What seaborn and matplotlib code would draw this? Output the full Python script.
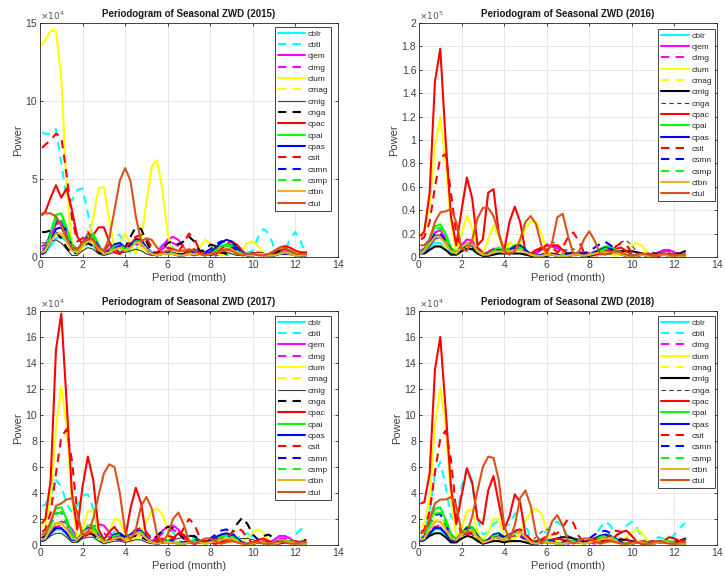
import matplotlib
matplotlib.use("Agg")
import matplotlib.pyplot as plt
from matplotlib.ticker import FuncFormatter
import seaborn as sns

# --- Data: periodogram power (period grid in months) ---
PERIOD = [0.1, 0.25, 0.5, 0.75, 1.0, 1.25, 1.5, 1.75, 2.0, 2.25, 2.5, 2.75, 3.0,
          3.25, 3.5, 3.75, 4.0, 4.25, 4.5, 4.75, 5.0, 5.25, 5.5, 5.75, 6.0, 6.25,
          6.5, 6.75, 7.0, 7.25, 7.5, 7.75, 8.0, 8.25, 8.5, 8.75, 9.0, 9.25, 9.5,
          9.75, 10.0, 10.25, 10.5, 10.75, 11.0, 11.25, 11.5, 11.75, 12.0, 12.25, 12.5]

# 2015 (x 1e4)
y2015_cblr = [0.2, 0.3, 0.7, 1.2, 1.3, 1.0, 0.5, 0.2, 0.5, 0.8, 0.7, 0.3, 0.1,
              0.3, 0.5, 0.4, 0.3, 0.6, 1.0, 1.0, 0.6, 0.2, 0.1, 0.2, 0.3, 0.3,
              0.2, 0.1, 0.2, 0.3, 0.2, 0.2, 0.4, 0.6, 0.7, 0.8, 0.7, 0.4, 0.2,
              0.1, 0.1, 0.2, 0.2, 0.1, 0.1, 0.2, 0.3, 0.3, 0.2, 0.2, 0.2]
y2015_cbtl = [8.0, 7.9, 7.9, 8.2, 6.0, 3.8, 3.6, 4.3, 4.4, 2.8, 1.0, 0.3, 0.5,
              1.2, 1.5, 1.4, 0.8, 0.3, 0.5, 0.8, 0.6, 0.3, 0.4, 0.8, 0.9, 0.6,
              0.2, 0.2, 0.4, 0.5, 0.3, 0.1, 0.2, 0.4, 0.3, 0.1, 0.2, 0.5, 0.6,
              0.3, 0.4, 1.3, 1.8, 1.5, 0.6, 0.1, 0.3, 1.2, 1.6, 1.0, 0.2]
y2015_cjem = [0.7, 0.8, 1.4, 2.1, 2.2, 1.6, 0.8, 0.5, 0.9, 1.5, 1.4, 0.7, 0.3,
              0.5, 0.8, 0.7, 0.5, 0.7, 1.0, 0.9, 0.5, 0.2, 0.3, 0.7, 1.1, 1.3,
              1.1, 0.6, 0.2, 0.1, 0.2, 0.3, 0.2, 0.1, 0.2, 0.4, 0.5, 0.5, 0.3,
              0.1, 0.1, 0.2, 0.2, 0.1, 0.1, 0.3, 0.3, 0.2, 0.1, 0.1, 0.2]
y2015_clmg = [0.5, 0.6, 1.3, 2.2, 2.3, 1.6, 0.8, 0.4, 0.7, 1.2, 1.1, 0.5, 0.2,
              0.3, 0.6, 0.6, 0.4, 0.6, 0.8, 0.8, 0.4, 0.2, 0.2, 0.5, 0.8, 0.9,
              0.7, 0.4, 0.2, 0.1, 0.2, 0.3, 0.2, 0.1, 0.2, 0.3, 0.4, 0.4, 0.2,
              0.1, 0.1, 0.2, 0.2, 0.1, 0.1, 0.2, 0.3, 0.2, 0.1, 0.1, 0.2]
y2015_clum = [13.6, 13.9, 14.5, 14.5, 11.5, 4.5, 0.8, 0.2, 0.5, 1.0, 2.5, 4.4, 4.5,
              2.4, 0.5, 0.9, 1.5, 0.8, 0.2, 1.0, 3.5, 5.8, 6.2, 4.3, 1.5, 0.2,
              0.3, 0.5, 0.3, 0.2, 0.6, 1.1, 0.9, 0.3, 0.1, 0.3, 0.4, 0.2, 0.4,
              0.9, 1.0, 0.7, 0.2, 0.1, 0.2, 0.3, 0.2, 0.1, 0.2, 0.3, 0.2]
y2015_cmag = [0.4, 0.5, 1.0, 1.5, 1.6, 1.1, 0.5, 0.2, 0.5, 0.9, 0.9, 0.4, 0.1,
              0.3, 0.5, 0.5, 0.3, 0.4, 0.6, 0.6, 0.3, 0.1, 0.2, 0.3, 0.4, 0.4,
              0.3, 0.2, 0.1, 0.2, 0.3, 0.4, 0.3, 0.1, 0.1, 0.2, 0.3, 0.3, 0.2,
              0.1, 0.1, 0.2, 0.2, 0.1, 0.1, 0.1, 0.2, 0.2, 0.1, 0.1, 0.1]
y2015_cmlg = [0.9, 0.9, 1.0, 1.1, 0.9, 0.5, 0.1, 0.1, 0.4, 0.6, 0.5, 0.2, 0.1,
              0.2, 0.3, 0.3, 0.3, 0.4, 0.5, 0.4, 0.2, 0.1, 0.1, 0.2, 0.3, 0.3,
              0.2, 0.2, 0.3, 0.4, 0.3, 0.1, 0.1, 0.2, 0.3, 0.3, 0.2, 0.1, 0.1,
              0.2, 0.3, 0.2, 0.1, 0.1, 0.2, 0.3, 0.3, 0.2, 0.1, 0.1, 0.1]
y2015_cnga = [1.6, 1.6, 1.7, 1.6, 1.2, 0.6, 0.2, 0.3, 0.7, 0.9, 0.7, 0.3, 0.2,
              0.4, 0.6, 0.5, 0.6, 1.3, 1.9, 1.8, 1.0, 0.3, 0.2, 0.5, 0.9, 1.0,
              0.8, 1.0, 1.3, 1.0, 0.4, 0.4, 0.8, 0.7, 0.3, 0.2, 0.4, 0.5, 0.3,
              0.1, 0.2, 0.3, 0.2, 0.1, 0.2, 0.4, 0.5, 0.4, 0.2, 0.1, 0.2]
y2015_cpac = [2.7, 2.9, 3.8, 4.6, 3.8, 4.4, 3.0, 1.3, 0.8, 1.0, 1.4, 1.9, 1.9,
              1.0, 0.3, 0.2, 0.5, 0.8, 1.2, 1.1, 0.6, 0.2, 0.1, 0.2, 0.3, 0.2,
              0.1, 0.2, 0.4, 0.5, 0.3, 0.1, 0.2, 0.3, 0.5, 0.8, 1.0, 0.8, 0.4,
              0.1, 0.1, 0.2, 0.1, 0.1, 0.3, 0.6, 0.7, 0.6, 0.4, 0.3, 0.3]
y2015_cpai = [0.3, 0.5, 1.6, 2.7, 2.8, 1.9, 0.8, 0.3, 0.8, 1.4, 1.5, 0.8, 0.2,
              0.4, 0.8, 0.9, 0.6, 0.8, 1.1, 1.1, 0.6, 0.2, 0.1, 0.2, 0.3, 0.2,
              0.1, 0.1, 0.2, 0.3, 0.2, 0.1, 0.2, 0.5, 0.7, 0.8, 0.8, 0.5, 0.2,
              0.1, 0.1, 0.2, 0.2, 0.1, 0.1, 0.2, 0.3, 0.3, 0.2, 0.1, 0.1]
y2015_cpas = [0.2, 0.3, 1.0, 1.8, 1.9, 1.3, 0.5, 0.3, 0.8, 1.2, 1.2, 0.7, 0.2,
              0.4, 0.8, 0.9, 0.6, 0.8, 1.1, 1.1, 0.6, 0.2, 0.1, 0.2, 0.2, 0.2,
              0.1, 0.1, 0.2, 0.3, 0.2, 0.2, 0.3, 0.6, 0.9, 1.1, 1.0, 0.6, 0.2,
              0.1, 0.1, 0.2, 0.2, 0.1, 0.1, 0.2, 0.2, 0.2, 0.1, 0.1, 0.1]
y2015_csit = [7.0, 7.2, 7.5, 7.9, 7.7, 5.3, 2.5, 1.0, 1.2, 1.6, 1.0, 0.3, 0.4,
              0.8, 0.6, 0.2, 0.5, 1.0, 1.3, 1.4, 1.2, 0.6, 0.2, 0.3, 0.6, 0.5,
              0.3, 0.9, 1.5, 1.2, 0.4, 0.1, 0.3, 0.5, 0.3, 0.4, 0.6, 0.5, 0.2,
              0.1, 0.2, 0.3, 0.2, 0.1, 0.2, 0.4, 0.5, 0.4, 0.2, 0.1, 0.2]
y2015_csmn = [0.3, 0.5, 1.5, 2.3, 2.4, 1.6, 0.6, 0.3, 0.9, 1.3, 1.2, 0.6, 0.2,
              0.3, 0.6, 0.7, 0.5, 0.7, 0.9, 0.9, 0.5, 0.2, 0.1, 0.2, 0.3, 0.3,
              0.2, 0.2, 0.3, 0.4, 0.3, 0.3, 0.5, 0.8, 1.0, 1.0, 0.7, 0.4, 0.2,
              0.1, 0.1, 0.2, 0.2, 0.1, 0.1, 0.2, 0.3, 0.2, 0.1, 0.1, 0.1]
y2015_csmp = [0.3, 0.4, 1.4, 2.4, 2.5, 1.7, 0.7, 0.3, 0.8, 1.3, 1.3, 0.7, 0.2,
              0.4, 0.7, 0.8, 0.5, 0.7, 1.0, 1.0, 0.5, 0.2, 0.1, 0.2, 0.3, 0.2,
              0.1, 0.1, 0.2, 0.3, 0.2, 0.1, 0.2, 0.4, 0.6, 0.7, 0.7, 0.4, 0.2,
              0.1, 0.1, 0.2, 0.2, 0.1, 0.1, 0.2, 0.3, 0.2, 0.1, 0.1, 0.1]
y2015_ctbn = [0.3, 0.4, 1.0, 1.5, 1.5, 1.0, 0.4, 0.3, 0.7, 1.0, 1.0, 0.5, 0.2,
              0.3, 0.5, 0.6, 0.4, 0.6, 0.9, 0.9, 0.5, 0.2, 0.1, 0.2, 0.2, 0.2,
              0.1, 0.1, 0.2, 0.2, 0.2, 0.1, 0.2, 0.3, 0.4, 0.5, 0.5, 0.3, 0.1,
              0.1, 0.1, 0.2, 0.2, 0.1, 0.1, 0.2, 0.3, 0.2, 0.1, 0.1, 0.1]
y2015_ctul = [2.8, 2.8, 2.8, 2.6, 2.0, 1.2, 0.6, 0.5, 0.9, 1.2, 1.1, 0.6, 0.4,
              1.2, 3.0, 4.9, 5.7, 4.9, 2.6, 1.0, 1.2, 1.1, 0.6, 0.3, 0.4, 0.5,
              0.4, 0.4, 0.5, 0.4, 0.2, 0.1, 0.2, 0.3, 0.4, 0.5, 0.4, 0.2, 0.1,
              0.2, 0.2, 0.1, 0.1, 0.2, 0.4, 0.6, 0.6, 0.4, 0.2, 0.2, 0.2]

# 2016 (x 1e5)
y2016_cblr = [0.03, 0.04, 0.08, 0.12, 0.12, 0.08, 0.03, 0.02, 0.05, 0.07, 0.06, 0.03, 0.01,
              0.02, 0.04, 0.04, 0.03, 0.05, 0.08, 0.1, 0.07, 0.02, 0.01, 0.01, 0.02, 0.02,
              0.01, 0.01, 0.01, 0.02, 0.02, 0.01, 0.02, 0.04, 0.06, 0.07, 0.06, 0.04, 0.02,
              0.01, 0.01, 0.01, 0.02, 0.01, 0.01, 0.01, 0.02, 0.02, 0.01, 0.01, 0.01]
y2016_cjem = [0.06, 0.07, 0.13, 0.21, 0.23, 0.16, 0.07, 0.05, 0.1, 0.15, 0.14, 0.07, 0.03,
              0.04, 0.07, 0.07, 0.05, 0.06, 0.08, 0.08, 0.05, 0.03, 0.04, 0.07, 0.1, 0.1,
              0.08, 0.04, 0.02, 0.01, 0.02, 0.03, 0.02, 0.01, 0.02, 0.03, 0.04, 0.04, 0.03,
              0.01, 0.01, 0.02, 0.02, 0.01, 0.02, 0.04, 0.06, 0.06, 0.04, 0.02, 0.02]
y2016_clmg = [0.05, 0.06, 0.12, 0.19, 0.2, 0.14, 0.06, 0.04, 0.08, 0.12, 0.12, 0.06, 0.02,
              0.03, 0.06, 0.06, 0.04, 0.05, 0.07, 0.07, 0.04, 0.02, 0.03, 0.06, 0.09, 0.09,
              0.07, 0.04, 0.02, 0.01, 0.02, 0.02, 0.02, 0.01, 0.02, 0.03, 0.03, 0.03, 0.02,
              0.01, 0.01, 0.02, 0.02, 0.01, 0.02, 0.03, 0.05, 0.05, 0.03, 0.02, 0.02]
y2016_clum = [0.2, 0.22, 0.45, 0.95, 1.2, 0.8, 0.3, 0.05, 0.2, 0.35, 0.25, 0.05, 0.03,
              0.15, 0.27, 0.18, 0.03, 0.12, 0.1, 0.1, 0.25, 0.3, 0.3, 0.2, 0.05, 0.02,
              0.04, 0.05, 0.03, 0.01, 0.02, 0.03, 0.02, 0.01, 0.02, 0.03, 0.02, 0.01, 0.02,
              0.05, 0.1, 0.12, 0.09, 0.03, 0.01, 0.02, 0.03, 0.02, 0.01, 0.02, 0.02]
y2016_cmag = [0.03, 0.05, 0.1, 0.15, 0.14, 0.09, 0.04, 0.02, 0.05, 0.08, 0.07, 0.03, 0.01,
              0.03, 0.05, 0.06, 0.08, 0.12, 0.13, 0.1, 0.05, 0.02, 0.02, 0.03, 0.04, 0.03,
              0.02, 0.01, 0.02, 0.03, 0.02, 0.01, 0.02, 0.03, 0.03, 0.02, 0.02, 0.03, 0.02,
              0.01, 0.01, 0.02, 0.02, 0.01, 0.01, 0.02, 0.02, 0.01, 0.01, 0.01, 0.01]
y2016_cmlg = [0.03, 0.03, 0.06, 0.09, 0.09, 0.06, 0.02, 0.02, 0.05, 0.07, 0.07, 0.03, 0.01,
              0.01, 0.02, 0.03, 0.03, 0.03, 0.03, 0.03, 0.02, 0.01, 0.01, 0.01, 0.01, 0.02,
              0.02, 0.01, 0.01, 0.02, 0.02, 0.01, 0.01, 0.02, 0.03, 0.03, 0.03, 0.04, 0.05,
              0.05, 0.05, 0.04, 0.03, 0.02, 0.02, 0.03, 0.03, 0.02, 0.02, 0.03, 0.05]
y2016_cnga = [0.04, 0.05, 0.12, 0.18, 0.19, 0.12, 0.05, 0.03, 0.07, 0.1, 0.09, 0.04, 0.02,
              0.03, 0.05, 0.06, 0.05, 0.08, 0.1, 0.1, 0.06, 0.02, 0.03, 0.07, 0.11, 0.13,
              0.11, 0.06, 0.06, 0.07, 0.05, 0.02, 0.03, 0.05, 0.06, 0.05, 0.05, 0.09, 0.13,
              0.14, 0.1, 0.04, 0.02, 0.03, 0.04, 0.03, 0.02, 0.02, 0.03, 0.04, 0.04]
y2016_cpac = [0.18, 0.22, 0.55, 1.5, 1.78, 1.0, 0.35, 0.1, 0.4, 0.68, 0.5, 0.1, 0.15,
              0.55, 0.58, 0.2, 0.05, 0.3, 0.43, 0.3, 0.05, 0.03, 0.06, 0.08, 0.06, 0.1,
              0.1, 0.06, 0.03, 0.02, 0.04, 0.04, 0.03, 0.02, 0.03, 0.05, 0.06, 0.07, 0.08,
              0.05, 0.02, 0.01, 0.02, 0.03, 0.02, 0.01, 0.02, 0.03, 0.02, 0.01, 0.02]
y2016_cpai = [0.04, 0.06, 0.16, 0.26, 0.28, 0.2, 0.08, 0.04, 0.08, 0.12, 0.11, 0.05, 0.02,
              0.03, 0.06, 0.08, 0.05, 0.07, 0.1, 0.1, 0.06, 0.02, 0.01, 0.01, 0.02, 0.02,
              0.01, 0.01, 0.01, 0.02, 0.02, 0.01, 0.02, 0.04, 0.07, 0.09, 0.09, 0.06, 0.03,
              0.01, 0.01, 0.01, 0.02, 0.01, 0.01, 0.02, 0.02, 0.02, 0.01, 0.01, 0.01]
y2016_cpas = [0.03, 0.04, 0.1, 0.16, 0.17, 0.12, 0.05, 0.03, 0.08, 0.12, 0.11, 0.05, 0.02,
              0.03, 0.05, 0.06, 0.04, 0.06, 0.09, 0.1, 0.06, 0.02, 0.01, 0.01, 0.02, 0.02,
              0.01, 0.01, 0.01, 0.02, 0.02, 0.01, 0.02, 0.04, 0.06, 0.08, 0.07, 0.05, 0.02,
              0.01, 0.01, 0.01, 0.02, 0.01, 0.01, 0.02, 0.02, 0.01, 0.01, 0.01, 0.01]
y2016_csit = [0.15, 0.17, 0.3, 0.6, 0.85, 0.88, 0.55, 0.2, 0.08, 0.1, 0.12, 0.08, 0.04,
              0.05, 0.06, 0.04, 0.03, 0.05, 0.07, 0.08, 0.05, 0.02, 0.03, 0.07, 0.1, 0.08,
              0.04, 0.08, 0.17, 0.21, 0.14, 0.04, 0.02, 0.03, 0.04, 0.03, 0.04, 0.09, 0.12,
              0.1, 0.04, 0.01, 0.02, 0.03, 0.02, 0.01, 0.02, 0.03, 0.02, 0.01, 0.02]
y2016_csmn = [0.04, 0.06, 0.14, 0.2, 0.2, 0.14, 0.06, 0.03, 0.07, 0.1, 0.1, 0.05, 0.02,
              0.03, 0.05, 0.06, 0.04, 0.06, 0.08, 0.08, 0.05, 0.02, 0.01, 0.02, 0.03, 0.03,
              0.02, 0.02, 0.03, 0.04, 0.03, 0.03, 0.05, 0.08, 0.11, 0.13, 0.1, 0.06, 0.03,
              0.01, 0.01, 0.02, 0.02, 0.01, 0.01, 0.02, 0.02, 0.02, 0.01, 0.01, 0.01]
y2016_csmp = [0.04, 0.06, 0.15, 0.24, 0.25, 0.17, 0.07, 0.04, 0.08, 0.11, 0.1, 0.05, 0.02,
              0.03, 0.05, 0.07, 0.05, 0.06, 0.08, 0.08, 0.05, 0.02, 0.01, 0.01, 0.02, 0.02,
              0.01, 0.01, 0.01, 0.02, 0.02, 0.01, 0.02, 0.03, 0.05, 0.07, 0.07, 0.05, 0.02,
              0.01, 0.01, 0.01, 0.02, 0.01, 0.01, 0.02, 0.02, 0.02, 0.01, 0.01, 0.01]
y2016_ctbn = [0.03, 0.05, 0.11, 0.17, 0.17, 0.12, 0.05, 0.03, 0.08, 0.12, 0.11, 0.05, 0.02,
              0.02, 0.04, 0.05, 0.04, 0.05, 0.06, 0.06, 0.04, 0.02, 0.01, 0.01, 0.02, 0.02,
              0.01, 0.01, 0.01, 0.02, 0.02, 0.01, 0.02, 0.03, 0.04, 0.04, 0.04, 0.03, 0.02,
              0.01, 0.01, 0.01, 0.02, 0.01, 0.01, 0.02, 0.02, 0.01, 0.01, 0.01, 0.01]
y2016_ctul = [0.1, 0.1, 0.15, 0.3, 0.38, 0.39, 0.41, 0.3, 0.07, 0.05, 0.15, 0.33, 0.42,
              0.42, 0.35, 0.2, 0.05, 0.02, 0.05, 0.15, 0.3, 0.35, 0.28, 0.1, 0.03, 0.12,
              0.34, 0.37, 0.18, 0.03, 0.04, 0.15, 0.22, 0.14, 0.03, 0.02, 0.04, 0.05, 0.04,
              0.02, 0.01, 0.02, 0.03, 0.02, 0.01, 0.02, 0.03, 0.02, 0.01, 0.02, 0.02]

# 2017 (x 1e4)
y2017_cblr = [0.3, 0.4, 0.8, 1.2, 1.2, 0.8, 0.3, 0.3, 0.7, 1.0, 0.9, 0.4, 0.1,
              0.3, 0.5, 0.5, 0.3, 0.6, 1.0, 1.1, 0.7, 0.2, 0.1, 0.2, 0.3, 0.3,
              0.2, 0.1, 0.2, 0.3, 0.2, 0.2, 0.3, 0.5, 0.6, 0.7, 0.6, 0.4, 0.2,
              0.1, 0.1, 0.2, 0.2, 0.1, 0.1, 0.2, 0.3, 0.3, 0.2, 0.1, 0.1]
y2017_cbtl = [3.0, 3.1, 3.8, 5.0, 4.5, 3.2, 2.5, 3.0, 3.8, 3.9, 2.8, 1.2, 0.5,
              0.7, 1.0, 1.2, 1.5, 1.3, 0.7, 0.4, 0.6, 0.8, 0.7, 0.9, 1.2, 1.0,
              0.4, 0.1, 0.3, 0.5, 0.4, 0.2, 0.3, 0.5, 0.6, 0.4, 0.3, 0.5, 0.8,
              0.9, 0.6, 0.2, 0.1, 0.2, 0.3, 0.2, 0.1, 0.3, 0.8, 1.2, 1.3]
y2017_cjem = [0.6, 0.7, 1.1, 1.6, 1.8, 1.7, 1.2, 0.6, 0.7, 1.1, 1.4, 1.6, 1.5,
              1.0, 0.5, 0.4, 0.5, 0.7, 0.9, 0.8, 0.5, 0.3, 0.6, 1.1, 1.4, 1.5,
              1.2, 0.6, 0.2, 0.1, 0.2, 0.3, 0.2, 0.1, 0.2, 0.3, 0.4, 0.3, 0.2,
              0.1, 0.1, 0.2, 0.2, 0.2, 0.4, 0.7, 0.7, 0.5, 0.2, 0.1, 0.2]
y2017_clmg = [0.5, 0.6, 1.0, 1.4, 1.5, 1.3, 0.8, 0.5, 0.6, 0.9, 1.0, 1.0, 0.9,
              0.6, 0.4, 0.4, 0.4, 0.6, 0.8, 0.7, 0.4, 0.3, 0.5, 0.9, 1.1, 1.2,
              0.9, 0.5, 0.2, 0.1, 0.2, 0.2, 0.2, 0.1, 0.2, 0.3, 0.3, 0.3, 0.2,
              0.1, 0.1, 0.2, 0.2, 0.2, 0.3, 0.5, 0.5, 0.4, 0.2, 0.1, 0.2]
y2017_clum = [1.4, 1.6, 3.5, 9.0, 12.2, 9.0, 3.5, 0.6, 1.2, 2.6, 2.6, 1.0, 0.3,
              1.0, 2.0, 1.9, 0.7, 0.2, 0.5, 1.0, 1.8, 2.6, 2.8, 2.4, 1.2, 0.3,
              0.1, 0.2, 0.4, 0.3, 0.1, 0.2, 0.3, 0.2, 0.1, 0.2, 0.3, 0.2, 0.2,
              0.6, 1.0, 1.2, 0.9, 0.3, 0.1, 0.2, 0.3, 0.2, 0.1, 0.2, 0.2]
y2017_cmag = [0.8, 1.0, 1.4, 1.6, 1.6, 1.1, 0.5, 0.3, 0.6, 0.9, 0.9, 0.4, 0.2,
              0.3, 0.5, 0.5, 0.3, 0.4, 0.6, 0.6, 0.4, 0.2, 0.3, 0.5, 0.6, 0.5,
              0.3, 0.2, 0.2, 0.3, 0.3, 0.2, 0.2, 0.3, 0.4, 0.4, 0.3, 0.2, 0.2,
              0.2, 0.2, 0.3, 0.3, 0.2, 0.1, 0.2, 0.2, 0.2, 0.1, 0.1, 0.1]
y2017_cmlg = [0.3, 0.4, 0.7, 0.9, 0.9, 0.6, 0.2, 0.2, 0.5, 0.6, 0.6, 0.3, 0.1,
              0.2, 0.3, 0.3, 0.2, 0.3, 0.4, 0.4, 0.2, 0.1, 0.1, 0.2, 0.3, 0.4,
              0.5, 0.6, 0.7, 0.6, 0.4, 0.3, 0.4, 0.5, 0.4, 0.3, 0.3, 0.4, 0.5,
              0.5, 0.4, 0.3, 0.2, 0.1, 0.2, 0.3, 0.3, 0.2, 0.2, 0.3, 0.4]
y2017_cnga = [0.5, 0.7, 1.1, 1.3, 1.3, 0.9, 0.4, 0.3, 0.7, 0.9, 0.8, 0.4, 0.2,
              0.3, 0.5, 0.5, 0.4, 0.6, 0.7, 0.6, 0.4, 0.3, 0.7, 1.1, 1.4, 1.3,
              0.9, 0.5, 0.7, 0.7, 0.4, 0.2, 0.4, 0.6, 0.5, 0.4, 0.9, 1.6, 2.1,
              1.6, 0.8, 0.4, 0.7, 0.8, 0.5, 0.2, 0.2, 0.3, 0.2, 0.3, 0.4]
y2017_cpac = [1.7, 2.0, 5.0, 15.0, 17.8, 11.0, 4.0, 1.2, 4.5, 6.8, 5.0, 1.2, 0.4,
              1.0, 1.4, 0.8, 0.5, 2.8, 4.4, 3.2, 0.6, 0.2, 0.4, 0.5, 0.3, 0.5,
              0.9, 0.8, 0.3, 0.1, 0.2, 0.3, 0.2, 0.1, 0.2, 0.4, 0.5, 0.4, 0.2,
              0.1, 0.2, 0.4, 0.5, 0.3, 0.1, 0.1, 0.2, 0.3, 0.3, 0.2, 0.2]
y2017_cpai = [0.4, 0.6, 1.7, 2.8, 2.9, 2.0, 0.9, 0.4, 0.9, 1.5, 1.5, 0.8, 0.2,
              0.4, 0.8, 0.9, 0.6, 0.8, 1.1, 1.1, 0.6, 0.2, 0.1, 0.2, 0.3, 0.2,
              0.1, 0.1, 0.2, 0.3, 0.2, 0.1, 0.2, 0.5, 0.7, 0.8, 0.7, 0.4, 0.2,
              0.1, 0.1, 0.2, 0.2, 0.1, 0.1, 0.2, 0.3, 0.3, 0.2, 0.1, 0.1]
y2017_cpas = [0.3, 0.4, 0.9, 1.3, 1.3, 0.9, 0.4, 0.4, 0.9, 1.3, 1.3, 0.7, 0.2,
              0.4, 0.8, 0.9, 0.6, 0.8, 1.1, 1.1, 0.6, 0.2, 0.1, 0.2, 0.2, 0.2,
              0.1, 0.1, 0.2, 0.3, 0.2, 0.2, 0.3, 0.6, 0.8, 0.9, 0.8, 0.5, 0.2,
              0.1, 0.1, 0.2, 0.2, 0.1, 0.1, 0.2, 0.2, 0.2, 0.1, 0.1, 0.1]
y2017_csit = [1.0, 1.2, 2.5, 5.5, 8.3, 8.9, 6.5, 2.5, 0.6, 0.8, 1.0, 0.6, 0.3,
              0.5, 0.7, 0.5, 0.4, 0.8, 1.2, 1.3, 1.0, 0.4, 0.2, 0.4, 0.7, 0.6,
              0.5, 1.3, 2.0, 1.6, 0.6, 0.2, 0.3, 0.5, 0.4, 0.5, 0.9, 1.3, 1.1,
              0.5, 0.1, 0.2, 0.3, 0.2, 0.1, 0.2, 0.3, 0.2, 0.1, 0.2, 0.3]
y2017_csmn = [0.4, 0.6, 1.6, 2.4, 2.5, 1.7, 0.7, 0.4, 0.9, 1.3, 1.2, 0.6, 0.2,
              0.3, 0.6, 0.7, 0.5, 0.7, 0.9, 0.9, 0.5, 0.2, 0.1, 0.2, 0.3, 0.3,
              0.2, 0.2, 0.3, 0.4, 0.3, 0.3, 0.5, 0.8, 1.1, 1.2, 1.0, 0.5, 0.2,
              0.1, 0.1, 0.2, 0.2, 0.1, 0.1, 0.2, 0.3, 0.2, 0.1, 0.1, 0.1]
y2017_csmp = [0.4, 0.5, 1.5, 2.4, 2.5, 1.7, 0.7, 0.4, 0.9, 1.3, 1.3, 0.7, 0.2,
              0.4, 0.7, 0.8, 0.5, 0.7, 1.0, 1.0, 0.5, 0.2, 0.1, 0.2, 0.3, 0.2,
              0.1, 0.1, 0.2, 0.3, 0.2, 0.1, 0.2, 0.4, 0.6, 0.7, 0.7, 0.4, 0.2,
              0.1, 0.1, 0.2, 0.2, 0.1, 0.1, 0.2, 0.3, 0.2, 0.1, 0.1, 0.1]
y2017_ctbn = [0.4, 0.5, 1.2, 1.7, 1.7, 1.2, 0.5, 0.4, 0.8, 1.2, 1.1, 0.6, 0.2,
              0.3, 0.5, 0.6, 0.4, 0.6, 0.9, 0.9, 0.5, 0.2, 0.1, 0.2, 0.2, 0.2,
              0.1, 0.1, 0.2, 0.2, 0.2, 0.1, 0.2, 0.3, 0.4, 0.5, 0.5, 0.3, 0.1,
              0.1, 0.1, 0.2, 0.2, 0.1, 0.1, 0.2, 0.3, 0.2, 0.1, 0.1, 0.1]
y2017_ctul = [0.8, 0.9, 1.8, 3.0, 3.2, 3.5, 3.6, 2.5, 0.8, 0.9, 2.0, 3.8, 5.5,
              6.2, 6.0, 4.0, 1.0, 0.4, 1.2, 3.0, 3.7, 2.8, 0.8, 0.2, 0.8, 2.0,
              2.5, 1.6, 0.3, 0.1, 0.3, 0.5, 0.5, 0.3, 0.1, 0.2, 0.3, 0.2, 0.1,
              0.1, 0.2, 0.2, 0.1, 0.1, 0.2, 0.3, 0.2, 0.1, 0.1, 0.2, 0.2]

# 2018 (x 1e4)
y2018_cblr = [0.3, 0.4, 0.8, 1.2, 1.2, 0.8, 0.3, 0.3, 0.7, 0.9, 0.9, 0.4, 0.1,
              0.3, 0.5, 0.5, 0.3, 0.6, 0.9, 1.0, 0.6, 0.2, 0.1, 0.2, 0.3, 0.3,
              0.2, 0.1, 0.2, 0.3, 0.2, 0.2, 0.3, 0.5, 0.6, 0.6, 0.5, 0.3, 0.2,
              0.1, 0.1, 0.2, 0.2, 0.1, 0.1, 0.2, 0.3, 0.3, 0.2, 0.1, 0.1]
y2018_cbtl = [0.6, 0.8, 2.5, 5.5, 6.4, 4.5, 2.2, 1.8, 4.5, 5.9, 4.6, 2.0, 0.8,
              1.0, 1.6, 1.9, 1.5, 1.6, 2.4, 2.6, 1.6, 0.5, 0.3, 0.6, 1.1, 1.6,
              1.8, 1.4, 0.6, 0.3, 0.5, 0.6, 0.4, 0.6, 1.3, 1.8, 1.5, 0.8, 0.9,
              1.5, 1.8, 1.3, 0.5, 0.2, 0.4, 0.6, 0.5, 0.4, 0.8, 1.3, 1.7]
y2018_clmg = [0.5, 0.6, 1.0, 1.4, 1.5, 1.3, 0.8, 0.5, 0.7, 1.0, 1.0, 0.6, 0.3,
              0.4, 0.6, 0.6, 0.4, 0.6, 0.8, 0.7, 0.4, 0.2, 0.2, 0.3, 0.4, 0.4,
              0.3, 0.2, 0.1, 0.1, 0.2, 0.2, 0.2, 0.1, 0.2, 0.3, 0.3, 0.3, 0.2,
              0.1, 0.1, 0.2, 0.2, 0.1, 0.2, 0.3, 0.3, 0.2, 0.1, 0.1, 0.2]
y2018_clum = [1.4, 1.6, 3.6, 9.2, 12.1, 9.2, 3.6, 0.6, 1.2, 2.6, 2.7, 1.0, 0.3,
              1.0, 2.0, 2.0, 0.7, 0.2, 0.5, 1.0, 1.8, 2.6, 2.8, 2.4, 1.2, 0.3,
              0.1, 0.2, 0.4, 0.3, 0.1, 0.2, 0.3, 0.2, 0.1, 0.2, 0.3, 0.2, 0.2,
              0.6, 1.0, 1.2, 0.9, 0.3, 0.1, 0.2, 0.3, 0.2, 0.1, 0.2, 0.2]
y2018_cmag = [0.8, 1.0, 1.6, 2.0, 2.0, 1.4, 0.6, 0.3, 0.6, 0.9, 0.9, 0.4, 0.2,
              0.3, 0.5, 0.5, 0.3, 0.4, 0.6, 0.6, 0.4, 0.2, 0.3, 0.4, 0.5, 0.4,
              0.3, 0.2, 0.2, 0.3, 0.3, 0.2, 0.2, 0.3, 0.4, 0.4, 0.3, 0.2, 0.2,
              0.2, 0.2, 0.3, 0.3, 0.2, 0.1, 0.2, 0.2, 0.2, 0.1, 0.1, 0.1]
y2018_cmlg = [0.3, 0.4, 0.7, 0.9, 0.9, 0.6, 0.2, 0.2, 0.5, 0.7, 0.6, 0.3, 0.1,
              0.2, 0.3, 0.3, 0.2, 0.3, 0.3, 0.3, 0.2, 0.1, 0.1, 0.2, 0.3, 0.4,
              0.5, 0.6, 0.6, 0.5, 0.3, 0.2, 0.3, 0.4, 0.4, 0.3, 0.3, 0.4, 0.4,
              0.4, 0.3, 0.2, 0.1, 0.1, 0.2, 0.3, 0.3, 0.2, 0.2, 0.3, 0.5]
y2018_cnga = [0.5, 0.7, 1.1, 1.4, 1.4, 0.9, 0.4, 0.3, 0.7, 0.9, 0.8, 0.4, 0.2,
              0.3, 0.5, 0.5, 0.4, 0.6, 0.7, 0.6, 0.4, 0.3, 0.6, 1.0, 1.2, 1.1,
              0.8, 0.6, 0.7, 0.6, 0.4, 0.2, 0.3, 0.5, 0.5, 0.4, 0.5, 0.6, 0.5,
              0.4, 0.3, 0.2, 0.2, 0.3, 0.3, 0.2, 0.2, 0.3, 0.3, 0.4, 0.5]
y2018_cpac = [3.2, 3.3, 5.5, 13.5, 16.0, 10.5, 4.5, 1.6, 3.8, 5.9, 4.8, 2.0, 1.6,
              4.2, 5.3, 3.2, 1.2, 2.2, 3.9, 3.3, 0.8, 0.2, 0.3, 0.4, 0.3, 0.4,
              0.5, 0.4, 0.3, 0.2, 0.2, 0.3, 0.3, 0.2, 0.2, 0.3, 0.4, 0.7, 1.0,
              1.1, 0.7, 0.2, 0.1, 0.2, 0.3, 0.2, 0.3, 0.6, 0.5, 0.3, 0.4]
y2018_cpai = [0.4, 0.6, 1.7, 2.8, 2.9, 2.0, 0.9, 0.4, 0.9, 1.4, 1.4, 0.8, 0.2,
              0.4, 0.8, 0.9, 0.6, 0.8, 1.0, 1.0, 0.6, 0.2, 0.1, 0.2, 0.3, 0.2,
              0.1, 0.1, 0.2, 0.3, 0.2, 0.1, 0.2, 0.5, 0.7, 0.8, 0.7, 0.4, 0.2,
              0.1, 0.1, 0.2, 0.2, 0.1, 0.1, 0.2, 0.3, 0.3, 0.2, 0.1, 0.1]
y2018_cpas = [0.3, 0.4, 0.9, 1.3, 1.3, 0.9, 0.4, 0.4, 0.9, 1.3, 1.3, 0.7, 0.2,
              0.4, 0.8, 0.9, 0.6, 0.8, 1.0, 1.0, 0.6, 0.2, 0.1, 0.2, 0.2, 0.2,
              0.1, 0.1, 0.2, 0.3, 0.2, 0.2, 0.3, 0.5, 0.7, 0.8, 0.7, 0.4, 0.2,
              0.1, 0.1, 0.2, 0.2, 0.1, 0.1, 0.2, 0.2, 0.2, 0.1, 0.1, 0.1]
y2018_csit = [1.0, 1.2, 2.6, 5.6, 8.2, 8.8, 6.6, 2.6, 0.6, 0.8, 1.0, 0.6, 0.3,
              0.5, 0.7, 0.5, 0.4, 0.8, 1.1, 1.2, 0.9, 0.4, 0.2, 0.4, 0.7, 0.8,
              0.9, 1.4, 2.0, 1.7, 0.7, 0.2, 0.3, 0.5, 0.4, 0.5, 0.8, 1.1, 1.0,
              0.5, 0.1, 0.2, 0.3, 0.2, 0.1, 0.2, 0.3, 0.2, 0.1, 0.2, 0.3]
y2018_csmn = [0.4, 0.6, 1.6, 2.3, 2.4, 1.6, 0.7, 0.4, 0.9, 1.3, 1.2, 0.6, 0.2,
              0.3, 0.6, 0.7, 0.5, 0.7, 0.9, 0.9, 0.5, 0.2, 0.1, 0.2, 0.3, 0.3,
              0.2, 0.2, 0.3, 0.4, 0.3, 0.3, 0.5, 0.8, 1.0, 1.1, 0.9, 0.5, 0.2,
              0.1, 0.1, 0.2, 0.2, 0.1, 0.1, 0.2, 0.3, 0.2, 0.1, 0.1, 0.1]
y2018_csmp = [0.4, 0.5, 1.5, 2.4, 2.5, 1.7, 0.7, 0.4, 0.9, 1.3, 1.3, 0.7, 0.2,
              0.4, 0.7, 0.8, 0.5, 0.7, 1.0, 1.0, 0.5, 0.2, 0.1, 0.2, 0.3, 0.2,
              0.1, 0.1, 0.2, 0.3, 0.2, 0.1, 0.2, 0.4, 0.6, 0.7, 0.7, 0.4, 0.2,
              0.1, 0.1, 0.2, 0.2, 0.1, 0.1, 0.2, 0.3, 0.2, 0.1, 0.1, 0.1]
y2018_ctbn = [0.4, 0.5, 1.2, 1.8, 1.8, 1.2, 0.5, 0.4, 0.8, 1.1, 1.1, 0.6, 0.2,
              0.3, 0.5, 0.6, 0.4, 0.6, 0.9, 1.0, 0.6, 0.2, 0.1, 0.2, 0.2, 0.2,
              0.1, 0.1, 0.2, 0.2, 0.2, 0.1, 0.2, 0.3, 0.4, 0.5, 0.5, 0.3, 0.1,
              0.1, 0.1, 0.2, 0.2, 0.1, 0.1, 0.2, 0.3, 0.2, 0.1, 0.1, 0.1]
y2018_ctul = [0.9, 1.0, 2.0, 3.2, 3.5, 3.5, 3.7, 3.0, 1.0, 0.9, 2.2, 4.2, 6.0,
              6.8, 6.7, 5.0, 1.5, 0.4, 1.5, 3.6, 4.2, 3.0, 0.8, 0.1, 0.6, 1.8,
              2.3, 1.5, 0.3, 0.1, 0.3, 0.5, 0.5, 0.3, 0.1, 0.2, 0.3, 0.2, 0.1,
              0.1, 0.2, 0.2, 0.1, 0.1, 0.2, 0.3, 0.2, 0.1, 0.1, 0.2, 0.2]

STATIONS_2015 = ['cblr', 'cbtl', 'cjem', 'clmg', 'clum', 'cmag', 'cmlg', 'cnga',
                 'cpac', 'cpai', 'cpas', 'csit', 'csmn', 'csmp', 'ctbn', 'ctul']
STATIONS_2016 = ['cblr', 'cjem', 'clmg', 'clum', 'cmag', 'cmlg', 'cnga', 'cpac',
                 'cpai', 'cpas', 'csit', 'csmn', 'csmp', 'ctbn', 'ctul']
STATIONS_2017 = STATIONS_2015
STATIONS_2018 = ['cblr', 'cbtl', 'clmg', 'clum', 'cmag', 'cmlg', 'cnga', 'cpac',
                 'cpai', 'cpas', 'csit', 'csmn', 'csmp', 'ctbn', 'ctul']

# colour / line style per station (MATLAB-like)
COLORS = {'cblr': '#00FFFF', 'cbtl': '#00FFFF', 'cjem': '#FF00FF', 'clmg': '#FF00FF',
          'clum': '#FFFF00', 'cmag': '#FFFF00', 'cmlg': '#000000', 'cnga': '#000000',
          'cpac': '#FF0000', 'cpai': '#00FF00', 'cpas': '#0000FF', 'csit': '#FF0000',
          'csmn': '#0000FF', 'csmp': '#00FF00', 'ctbn': '#EDB120', 'ctul': '#D95319'}
DASHED = {'cbtl', 'clmg', 'cmag', 'cnga', 'csit', 'csmn', 'csmp'}
THIN = {2015: 'cmlg', 2016: 'cnga', 2017: 'cmlg', 2018: 'cnga'}

# --- Style ---
sns.set_style("whitegrid")
plt.rcParams['font.family'] = ['Liberation Sans', 'DejaVu Sans']
plt.rcParams.update({
    'axes.edgecolor': '#262626', 'axes.linewidth': 0.6,
    'grid.color': '#e3e3e3', 'grid.linewidth': 0.6,
    'xtick.direction': 'in', 'ytick.direction': 'in',
    'xtick.major.size': 2.5, 'ytick.major.size': 2.5,
    'xtick.major.width': 0.6, 'ytick.major.width': 0.6,
    'xtick.color': '#262626', 'ytick.color': '#262626',
    'xtick.labelcolor': '#404040', 'ytick.labelcolor': '#404040',
    'xtick.top': True, 'ytick.right': True,
    'xtick.bottom': True, 'ytick.left': True,
})

fig = plt.figure(figsize=(7.25, 5.77), dpi=100)
W, H = 725, 577
rects = {
    2015: [40 / W, (H - 257) / H, 298 / W, 234 / H],
    2016: [419 / W, (H - 257) / H, 298 / W, 234 / H],
    2017: [40 / W, (H - 545) / H, 298 / W, 234 / H],
    2018: [419 / W, (H - 545) / H, 298 / W, 234 / H],
}
panels = [
    (2015, STATIONS_2015, 15, [0, 5, 10, 15], 4, (0.977, 0.983)),
    (2016, STATIONS_2016, 2, [0, 0.2, 0.4, 0.6, 0.8, 1, 1.2, 1.4, 1.6, 1.8, 2], 5, (0.993, 0.975)),
    (2017, STATIONS_2017, 18, list(range(0, 19, 2)), 4, (0.977, 0.979)),
    (2018, STATIONS_2018, 18, list(range(0, 19, 2)), 4, (0.993, 0.979)),
]

for year, stations, ymax, yticks, expo, leg_anchor in panels:
    ax = fig.add_axes(rects[year])
    for st in stations:
        vals = globals()[f'y{year}_{st}']
        assert len(vals) == len(PERIOD), (year, st, len(vals))
        color, lw = COLORS[st], 1.5
        if THIN[year] == st:
            color, lw = '#3a3a3a', 0.8
        ls = (0, (4, 3)) if st in DASHED else '-'
        sns.lineplot(x=PERIOD, y=vals, ax=ax, color=color, linewidth=lw,
                     linestyle=ls, label=st, sort=False, errorbar=None)

    ax.set_xlim(0, 14)
    ax.set_ylim(0, ymax)
    ax.set_xticks(range(0, 15, 2))
    ax.set_yticks(yticks)
    ax.yaxis.set_major_formatter(FuncFormatter(lambda v, p: f'{v:g}'))
    ax.tick_params(labelsize=7.5, pad=2)
    for s in ax.spines.values():
        s.set_visible(True)
        s.set_color('#262626')
    ax.grid(True, color='#e3e3e3', linewidth=0.6)
    ax.set_xlabel('Period (month)', fontsize=8, color='#404040', labelpad=2)
    ax.set_ylabel('Power', fontsize=8, color='#404040', labelpad=2)
    ax.set_title(f'Periodogram of Seasonal ZWD ({year})', fontsize=7,
                 fontweight='bold', color='#1a1a1a', pad=4)
    ax.text(0.0, 1.004, r'$\times10^{%d}$' % expo, transform=ax.transAxes,
            fontsize=6.5, color='#555555', ha='left', va='bottom')

    leg = ax.legend(loc='upper right', bbox_to_anchor=leg_anchor, fontsize=6,
                    handlelength=3.3, handletextpad=0.3, labelspacing=0.42,
                    borderpad=0.35, borderaxespad=0, frameon=True, fancybox=False,
                    framealpha=1, edgecolor='#262626')
    leg.get_frame().set_linewidth(0.6)

fig.savefig('out.png', dpi=100)
